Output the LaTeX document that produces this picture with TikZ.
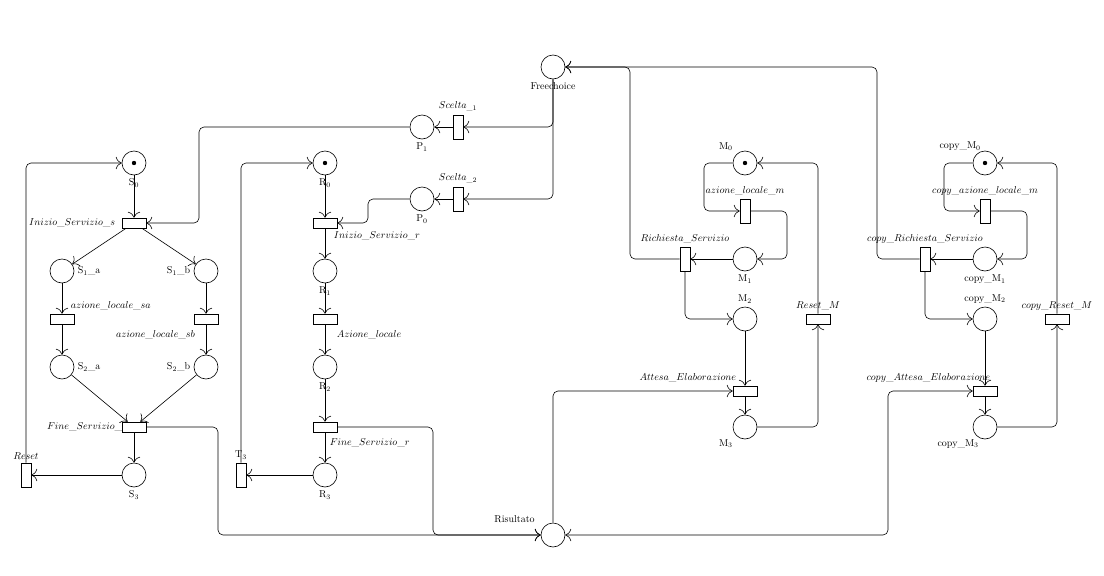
\documentclass[tikz,border=0pt]{standalone}
\usepackage{amsmath}
\usepackage{amssymb}
\usepackage{tikz}
\usetikzlibrary{arrows.meta}

\begin{document}
\begin{tikzpicture}[x=1pt,y=-1pt,line width=0.6pt,>={To[scale=2]}]
    \tikzstyle{place}=[draw=black, circle, fill=white, minimum size=24pt, inner sep=0pt]
    \tikzstyle{htrans}=[draw=black, rectangle, fill=white, minimum width=24pt, minimum height=10pt, inner sep=0pt]
    \tikzstyle{vtrans}=[draw=black, rectangle, fill=white, minimum width=10pt, minimum height=24pt, inner sep=0pt]
    \tikzstyle{arc}=[black, ->, rounded corners=5pt]
    \tikzstyle{every label}+=[label distance=0pt]
    \useasboundingbox (0,0) rectangle (1104,576);
    % lato server
    \node (FSslabel) at (87,427) {$Fine\_Servizio\_s$};
    \node [place, label=below:S$_0$] (S0) at (134,163) {};
    \node [htrans, label={[label distance=3pt]left:$Inizio\_Servizio\_s$}] (ISs) at (134,223) {};
    \node [place, label=right:S$_1$\_a] (S1a) at (62,271) {};
    \node [place, label=left:S$_1$\_b] (S1b) at (206,271) {};
    \node [htrans, label=above right:$azione\_locale\_sa$] (ALsa) at (62,319) {};
    \node [htrans, label={[label distance=3pt]below left:$azione\_locale\_sb$}] (ALsb) at (206,319) {};
    \node [place, label=right:S$_2$\_a] (S2a) at (62,367) {};
    \node [place, label=left:S$_2$\_b] (S2b) at (206,367) {};
    \node [htrans] (FSs) at (134,427) {};
    \node [place, label=below:S$_3$] (S3) at (134,475) {};
    \node [vtrans, label=above:$Reset$] (Reset) at (26,475) {};
    % lato richiedente
    \node [place, label=below:R$_0$] (R0) at (325,163) {};
    \node [htrans, label=below right:$Inizio\_Servizio\_r$] (ISr) at (325,223) {};
    \node [place, label=below:R$_1$] (R1) at (325,271) {};
    \node [htrans, label={[label distance=4pt]below right:$Azione\_locale$}] (AL) at (325,319) {};
    \node [place, label=below:R$_2$] (R2) at (325,367) {};
    \node [htrans, label={[label distance=4pt, xshift=-7pt]below right:$Fine\_Servizio\_r$}] (FSr) at (325,427) {};
    \node [place, label=below:R$_3$] (R3) at (325,475) {};
    \node [vtrans, label=above:T$_3$] (T3) at (241,475) {};
    % scelta
    \node [place, label=below:Freechoice] (FC) at (553,67) {};
    \node [vtrans, label=above:$Scelta_{\_1}$] (Sc1) at (458,127) {};
    \node [vtrans, label=above:$Scelta_{\_2}$] (Sc2) at (458,199) {};
    \node [place, label=below:P$_1$] (P1) at (422,127) {};
    \node [place, label=below:P$_0$] (P0) at (422,199) {};
    \node [place, label={[xshift=-6pt]above left:Risultato}] (Ris) at (553,535) {};
    % macchina M
    \node [place, label=above left:M$_0$] (M0) at (745,163) {};
    \node [vtrans, label=above:$azione\_locale\_m$] (ALm) at (745,211) {};
    \node [place, label=below:M$_1$] (M1) at (745,259) {};
    \node [vtrans, label=above:$Richiesta\_Servizio$] (RS) at (685,259) {};
    \node [place, label=above:M$_2$] (M2) at (745,319) {};
    \node [htrans, label=above left:$Attesa\_Elaborazione$] (AE) at (745,391) {};
    \node [place, label=below left:M$_3$] (M3) at (745,427) {};
    \node [htrans, label=above:$Reset\_M$] (ResetM) at (818,319) {};
    % copia della macchina M
    \node [place, label={[xshift=8pt]above left:copy\_M$_0$}] (cM0) at (985,163) {};
    \node [vtrans, label=above:$copy\_azione\_locale\_m$] (cALm) at (985,211) {};
    \node [place, label=below:copy\_M$_1$] (cM1) at (985,259) {};
    \node [vtrans, label=above:$copy\_Richiesta\_Servizio$] (cRS) at (925,259) {};
    \node [place, label=above:copy\_M$_2$] (cM2) at (985,319) {};
    \node [htrans, label={[xshift=14pt]above left:$copy\_Attesa\_Elaborazione$}] (cAE) at (985,391) {};
    \node [place, label={[xshift=6pt]below left:copy\_M$_3$}] (cM3) at (985,427) {};
    \node [htrans, label=above:$copy\_Reset\_M$] (cResetM) at (1057,319) {};
    % gettoni
    \fill [black] (S0) circle (2.2);
    \fill [black] (R0) circle (2.2);
    \fill [black] (M0) circle (2.2);
    \fill [black] (cM0) circle (2.2);
    % archi lato server
    \draw [arc] (S0) -- (ISs);
    \draw [arc] (P1.west) -- (199,127) |- (ISs.east);
    \draw [arc] (ISs) -- (S1a);
    \draw [arc] (ISs) -- (S1b);
    \draw [arc] (S1a) -- (ALsa);
    \draw [arc] (S1b) -- (ALsb);
    \draw [arc] (ALsa) -- (S2a);
    \draw [arc] (ALsb) -- (S2b);
    \draw [arc] (S2a) -- (FSs);
    \draw [arc] (S2b) -- (FSs);
    \draw [arc] (FSs) -- (S3);
    \draw [arc] (S3) -- (Reset);
    \draw [arc] (Reset.north) |- (S0.west);
    \draw [arc] (FSs.east) -- (218,427) |- (Ris.west);
    % archi lato richiedente
    \draw [arc] (R0) -- (ISr);
    \draw [arc] (P0.west) -- (368,199) |- (ISr.east);
    \draw [arc] (ISr) -- (R1);
    \draw [arc] (R1) -- (AL);
    \draw [arc] (AL) -- (R2);
    \draw [arc] (R2) -- (FSr);
    \draw [arc] (FSr) -- (R3);
    \draw [arc] (R3) -- (T3);
    \draw [arc] (T3.north) |- (R0.west);
    \draw [arc] (FSr.east) -- (433,427) |- (Ris.west);
    % archi scelta
    \draw [arc] (FC.south) |- (Sc1.east);
    \draw [arc] (FC.south) |- (Sc2.east);
    \draw [arc] (Sc1) -- (P1);
    \draw [arc] (Sc2) -- (P0);
    \draw [arc] (Ris.north) |- (AE.west);
    \draw [arc, <->] (Ris.east) -- (888,535) |- (cAE.west);
    \draw [arc] (RS.west) -- (630,259) |- (FC.east);
    \draw [arc] (cRS.west) -- (877,259) |- (FC.east);
    % archi macchina M
    \draw [arc] (M0.west) -- (704,163) |- (ALm.west);
    \draw [arc] (ALm.east) -- (787,211) |- (M1.east);
    \draw [arc] (M1) -- (RS);
    \draw [arc] (RS.south) |- (M2.west);
    \draw [arc] (M2) -- (AE);
    \draw [arc] (AE) -- (M3);
    \draw [arc] (M3.east) -| (ResetM.south);
    \draw [arc] (ResetM.north) |- (M0.east);
    % archi copia
    \draw [arc] (cM0.west) -- (944,163) |- (cALm.west);
    \draw [arc] (cALm.east) -- (1027,211) |- (cM1.east);
    \draw [arc] (cM1) -- (cRS);
    \draw [arc] (cRS.south) |- (cM2.west);
    \draw [arc] (cM2) -- (cAE);
    \draw [arc] (cAE) -- (cM3);
    \draw [arc] (cM3.east) -| (cResetM.south);
    \draw [arc] (cResetM.north) |- (cM0.east);
\end{tikzpicture}
\end{document}
